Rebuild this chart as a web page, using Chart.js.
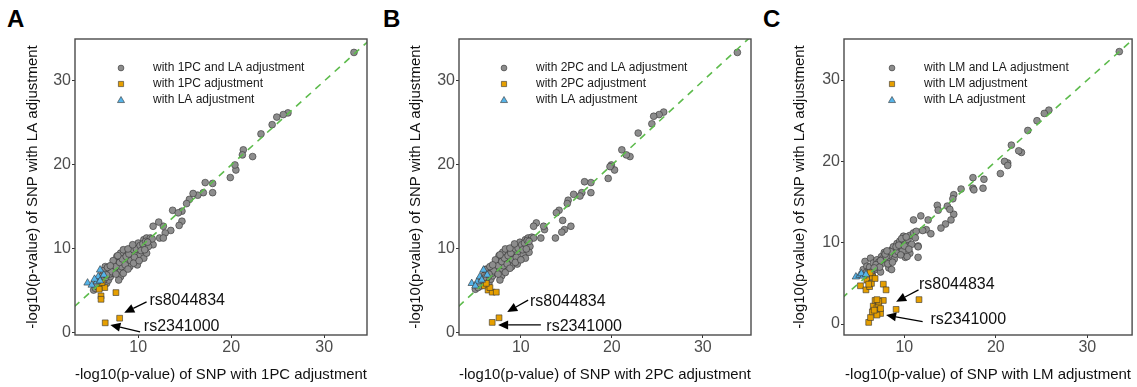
<!DOCTYPE html>
<html>
<head>
<meta charset="UTF-8">
<title>SNP adjustment comparison</title>
<script src="https://cdn.jsdelivr.net/npm/chart.js"></script>
<style>
  body { margin: 0; width: 1137px; height: 387px; background: #fff; position: relative; overflow: hidden; }
  canvas { position: absolute; top: 0; }
  .letter { position: absolute; top: 7px; font: bold 24px Arial, "Liberation Sans", sans-serif; line-height: 24px; color: #000; }
</style>
</head>
<body>

<div class="letter" style="left:7px">A</div>
<div class="letter" style="left:383px">B</div>
<div class="letter" style="left:763px">C</div>

<canvas id="chartA" width="372" height="387" style="left:0px"></canvas>
<canvas id="chartB" width="376" height="387" style="left:380px"></canvas>
<canvas id="chartC" width="380" height="387" style="left:757px"></canvas>

<script>
// tick values
const xTicks = [10, 20, 30];
const yTicks = [0, 10, 20, 30];

const yTitle = '-log10(p-value) of SNP with LA adjustment';

// ---- panel A : 1PC ----
const xTitleA = '-log10(p-value) of SNP with 1PC adjustment';
const legendA = ['with 1PC and LA adjustment', 'with 1PC adjustment', 'with LA adjustment'];
const greyA = [
  [33.2,33.4],[26.1,26.2],[25.6,26.0],[24.9,25.7],[24.4,24.8],[23.2,23.7],[22.3,21.0],[21.3,21.8],[21.2,21.2],
  [20.5,19.4],[20.4,20.0],[19.9,18.5],[18.0,17.8],[17.2,17.9],[18.0,16.7],[17.0,16.7],[16.4,16.4],[15.9,16.6],
  [15.5,15.9],[15.2,15.4],[14.7,14.5],[13.7,14.6],[14.3,14.3],[14.7,13.3],[14.4,12.8],[13.5,12.2],[12.9,11.9],
  [12.7,12.7],[12.2,13.2],[11.6,12.7],[12.3,11.3],[11.6,10.5],[12.7,11.3],
  [5.2,5.1],[5.4,5.3],[5.6,5.5],[5.9,5.7],[6.45,7.9],[6.6,5.9],[6.8,6.3],[7.0,6.7],[7.3,7.1],[7.2,7.7],
  [7.7,9.1],[7.8,8.3],[8.1,7.5],[8.2,7.9],[8.5,9.5],[8.8,8.7],[9.1,7.9],[9.3,9.1],[9.7,9.5],[9.9,8.1],
  [9.9,10.3],[10.0,10.7],[10.4,10.1],[10.6,11.1],[10.9,11.3],[11.1,10.3],[11.3,11.3],[10.2,9.3],[10.6,8.9],
  [10.9,9.5],[8.1,9.5],[8.4,9.9],[9.0,9.8],[9.3,10.1],[7.5,8.3],[6.8,7.3],[6.3,6.3],[8.1,6.7],[7.9,6.3],
  [8.4,7.1],[6.1,6.8],[6.5,6.6],[6.9,7.0],[7.4,7.6],[7.6,7.9],[8.0,8.4],[8.3,8.8],[8.7,9.1],[9.0,9.4],
  [9.5,9.9],[9.8,10.0],[10.2,10.4],[10.5,10.6],[10.8,10.9],[11.5,11.2],[7.1,7.3],[7.6,7.0],[8.6,8.1],
  [9.2,8.6],[9.6,9.0],[10.3,9.8],[8.9,10.0],[6.2,7.4],[6.7,7.8],[7.3,8.6],[5.8,6.0],[6.0,6.4],[7.0,8.0],
  [8.9,7.6],[9.5,8.3],[10.1,8.6],[9.4,10.5],[7.8,9.2],[6.6,6.9],[5.5,5.8],[10.7,9.9],[11.0,10.8]
];
const orangeA = [[6.0,5.5],[6.0,4.4],[6.0,4.0],[7.6,4.8],[6.4,5.4],[6.1,6.0],[5.8,5.2],[8.0,1.75],[6.45,1.2]];
const blueA = [[4.55,5.95],[5.0,5.7],[5.55,6.1],[5.9,7.5],[5.7,6.7],[6.3,6.9],[5.3,6.4],[5.9,6.2]];
const notesA = [['rs8044834', 11.2, 3.8], ['rs2341000', 10.6, 0.7]];
const arrowsA = [[10.9, 3.7, 8.5, 2.4], [10.2, 0.12, 7.0, 0.95]];

// ---- panel B : 2PC ----
const xTitleB = '-log10(p-value) of SNP with 2PC adjustment';
const legendB = ['with 2PC and LA adjustment', 'with 2PC adjustment', 'with LA adjustment'];
const greyB = [
  [33.8,33.4],[25.7,26.3],[25.2,26.0],[24.6,25.8],[24.4,24.9],[22.9,23.8],[22.0,21.0],[21.6,21.2],[21.1,21.8],
  [20.3,19.4],[19.95,20.0],[19.8,19.8],[19.6,18.4],[17.7,17.9],[17.0,18.0],[17.7,16.7],[16.7,16.7],[16.5,16.3],
  [15.8,16.5],[15.2,15.8],[15.1,15.4],[14.2,14.6],[13.9,14.3],[14.6,13.4],[15.5,12.7],[14.8,12.3],[14.5,12.0],
  [13.8,11.3],[12.6,12.3],[12.5,12.7],[11.7,13.1],[11.4,12.7],[12.2,11.3],
  [5.0,5.2],[5.3,5.4],[5.6,5.6],[5.9,5.8],[6.2,7.6],[6.5,6.0],[6.7,6.4],[6.9,6.8],[7.2,7.2],[7.1,7.8],
  [7.6,9.2],[7.7,8.4],[8.0,7.6],[8.1,8.0],[8.4,9.6],[8.7,8.8],[9.0,7.9],[9.3,9.2],[9.6,9.6],[9.6,8.2],
  [9.8,10.4],[9.9,10.8],[10.3,10.2],[10.5,11.1],[10.8,11.3],[11.0,10.3],[11.2,11.4],[10.3,9.3],[10.5,8.9],
  [10.9,9.6],[8.0,9.6],[8.3,10.0],[8.9,9.9],[9.2,10.2],[7.4,8.4],[6.7,7.4],[6.2,6.4],[7.9,6.8],[7.7,6.3],
  [8.3,7.2],[6.0,6.9],[6.4,6.7],[6.8,7.1],[7.3,7.7],[7.5,8.0],[7.9,8.5],[8.2,8.9],[8.6,9.2],[8.9,9.5],
  [9.4,10.0],[9.7,10.1],[10.1,10.5],[10.4,10.7],[10.7,11.0],[11.4,11.3],[7.0,7.4],[7.5,7.0],[8.5,8.2],
  [9.1,8.7],[9.5,9.0],[10.2,9.9],[8.8,10.1],[6.1,7.5],[6.6,7.9],[7.2,8.7],[5.7,6.1],[5.9,6.5],[6.9,8.1],
  [8.8,7.7],[9.4,8.4],[10.0,8.7],[9.3,10.6],[7.7,9.3],[6.5,7.0],[5.4,5.9],[10.6,10.0],[10.9,10.9]
];
const orangeB = [[6.0,5.6],[6.4,5.1],[6.85,4.85],[7.3,4.85],[6.6,5.4],[6.2,5.9],[7.6,1.8],[6.85,1.25]];
const blueB = [[4.6,5.9],[5.2,6.1],[5.5,6.7],[5.9,7.5],[6.3,6.9],[5.0,5.6],[5.7,6.3]];
const notesB = [['rs8044834', 11.0, 3.7], ['rs2341000', 12.8, 0.7]];
const arrowsB = [[10.8, 3.9, 8.5, 2.5], [12.2, 0.95, 7.5, 0.95]];

// ---- panel C : LM ----
const xTitleC = '-log10(p-value) of SNP with LM adjustment';
const legendC = ['with LM and LA adjustment', 'with LM adjustment', 'with LA adjustment'];
const greyC = [
  [33.5,33.5],[25.8,26.3],[25.3,25.9],[24.5,25.0],[23.5,23.8],[22.8,21.1],[22.5,21.3],[21.7,22.0],[21.3,19.8],
  [20.95,20.0],[21.3,19.5],[20.5,18.5],[18.6,16.7],[18.7,17.8],[17.5,18.0],[17.5,16.7],[17.6,16.5],[16.2,16.6],
  [15.4,15.9],[15.3,15.4],[15.4,13.5],[14.7,14.5],[13.6,14.6],[13.7,14.0],[14.97,14.1],[15.1,12.8],[14.5,12.3],
  [14.0,11.8],[12.6,12.8],[11.8,13.3],[11.0,12.8],[12.4,11.6],[12.9,11.1],[11.5,9.6],[11.5,8.2],[10.1,8.2],[10.6,8.7],
  [5.5,6.7],[5.7,7.7],[5.9,7.1],[6.3,8.1],[6.0,6.5],[6.2,7.0],[6.5,6.0],[6.6,7.5],[6.8,6.7],[7.0,7.9],
  [7.1,7.2],[7.4,6.4],[7.5,8.3],[7.7,7.5],[7.8,8.8],[8.1,7.9],[8.3,6.9],[8.4,8.5],[8.6,6.7],[8.6,9.1],
  [8.8,9.5],[8.9,8.0],[9.0,8.6],[9.2,9.9],[9.3,8.9],[9.5,10.2],[9.6,9.4],[9.8,9.0],[9.9,10.8],[10.1,10.1],
  [10.3,8.3],[10.4,10.4],[10.6,10.9],[10.8,9.8],[11.0,11.2],[11.2,10.6],[11.5,9.5],[7.2,7.6],[7.6,8.0],
  [8.0,8.3],[8.2,7.4],[8.7,7.6],[9.1,9.5],[9.4,9.7],[9.7,10.5],[10.0,9.6],[10.2,10.7],[6.4,6.4],[6.9,7.3],
  [7.3,7.0],[7.9,8.6],[8.5,8.9],[9.6,8.5],[10.5,9.2],[8.1,9.0],[7.4,7.8],[6.7,6.9],[5.8,6.3],[11.3,11.4],[12.0,11.5]
];
const orangeC = [
  [5.2,4.7],[5.9,5.4],[5.8,4.2],[6.2,4.6],[6.4,5.0],[6.5,5.8],[6.25,6.3],[6.8,5.6],[7.7,4.9],[8.0,4.2],
  [6.1,0.2],[6.3,0.8],[6.5,1.5],[6.6,2.2],[6.8,2.9],[7.0,2.0],[7.2,2.4],[7.4,1.3],[7.4,1.9],[7.0,1.1],
  [7.7,2.9],[7.2,2.8],[9.1,1.8],[11.6,3.0],[6.7,1.7],[6.1,4.9],[7.0,3.0]
];
const blueC = [[4.7,5.8],[5.1,6.0],[5.5,5.9],[5.3,6.2],[5.8,6.1]];
const notesC = [['rs8044834', 11.6, 4.8], ['rs2341000', 12.85, 0.5]];
const arrowsC = [[11.55, 4.2, 9.1, 2.75], [12.0, 0.3, 8.0, 1.1]];

const FONT = 'Arial, "Liberation Sans", sans-serif';
const GREY = '#8d8d8d', ORANGE = '#e69f00', BLUE = '#56b4e9', EDGE = '#333333';

function drawMarker(ctx, style, x, y, r) {
  ctx.beginPath();
  if (style === 'circle') {
    ctx.arc(x, y, r, 0, Math.PI * 2);
  } else if (style === 'rect') {
    ctx.rect(x - r, y - r, 2 * r, 2 * r);
  } else {
    ctx.moveTo(x, y - r * 1.1);
    ctx.lineTo(x + r * 1.1, y + r * 0.8);
    ctx.lineTo(x - r * 1.1, y + r * 0.8);
    ctx.closePath();
  }
  ctx.fill();
  ctx.stroke();
}

// plot box, legend, labels and arrows
const extras = {
  id: 'extras',
  afterDatasetsDraw(chart, args, opts) {
    const {ctx, chartArea: a, scales: {x, y}} = chart;
    ctx.save();
    ctx.strokeStyle = '#4a4a4a';
    ctx.lineWidth = 1.4;
    ctx.strokeRect(a.left, a.top, a.right - a.left, a.bottom - a.top);

    // legend
    const styles = [['circle', GREY, 2.9], ['rect', ORANGE, 2.6], ['tri', BLUE, 3.2]];
    ctx.font = '12px ' + FONT;
    ctx.textBaseline = 'middle';
    ctx.textAlign = 'left';
    opts.legend.forEach((txt, i) => {
      const ly = a.top + 29 + i * 16;
      ctx.fillStyle = styles[i][1];
      ctx.strokeStyle = EDGE;
      ctx.lineWidth = 0.6;
      drawMarker(ctx, styles[i][0], a.left + opts.legendDx, ly, styles[i][2]);
      ctx.fillStyle = '#1a1a1a';
      ctx.fillText(txt, a.left + opts.legendDx + 32, ly);
    });

    // arrows
    ctx.strokeStyle = '#000';
    ctx.fillStyle = '#000';
    ctx.lineWidth = 1.3;
    opts.arrows.forEach(([x0, y0, x1, y1]) => {
      const px0 = x.getPixelForValue(x0), py0 = y.getPixelForValue(y0);
      const px1 = x.getPixelForValue(x1), py1 = y.getPixelForValue(y1);
      const ang = Math.atan2(py1 - py0, px1 - px0);
      const len = 10, half = 4.5;
      const bx = px1 - len * Math.cos(ang), by = py1 - len * Math.sin(ang);
      ctx.beginPath();
      ctx.moveTo(px0, py0);
      ctx.lineTo(bx, by);
      ctx.stroke();
      ctx.beginPath();
      ctx.moveTo(px1, py1);
      ctx.lineTo(bx + half * Math.sin(ang), by - half * Math.cos(ang));
      ctx.lineTo(bx - half * Math.sin(ang), by + half * Math.cos(ang));
      ctx.closePath();
      ctx.fill();
    });

    // SNP labels
    ctx.font = '16px ' + FONT;
    ctx.fillStyle = '#111';
    opts.notes.forEach(([txt, nx, ny]) => {
      ctx.fillText(txt, x.getPixelForValue(nx), y.getPixelForValue(ny));
    });
    ctx.restore();
  }
};

function makeChart(p) {
  const pts = arr => arr.map(([x, y]) => ({x, y}));
  const canvas = document.getElementById(p.id);
  new Chart(canvas, {
    type: 'scatter',
    data: {
      datasets: [
        { type: 'line', data: [{x: 0, y: 0}, {x: 40, y: 40}], borderColor: '#5dbb4c', borderWidth: 1.6,
          borderDash: [7, 6], pointRadius: 0, order: 0 },
        { data: pts(p.grey), pointStyle: 'circle', pointRadius: 3.4, backgroundColor: GREY,
          borderColor: EDGE, borderWidth: 0.6, order: 3 },
        { data: pts(p.orange), pointStyle: 'rect', pointRadius: 4.1, backgroundColor: ORANGE,
          borderColor: EDGE, borderWidth: 0.6, order: 2 },
        { data: pts(p.blue), pointStyle: 'triangle', pointRadius: 4.3, backgroundColor: BLUE,
          borderColor: EDGE, borderWidth: 0.6, order: 1 }
      ]
    },
    options: {
      responsive: false,
      animation: false,
      events: [],
      layout: { padding: { left: 0, right: p.padRight, top: 39, bottom: 0 } },
      plugins: {
        legend: { display: false },
        tooltip: { enabled: false },
        extras: { legend: p.legend, legendDx: p.legendDx, notes: p.notes, arrows: p.arrows }
      },
      scales: {
        x: {
          type: 'linear', min: p.xMin, max: p.xMax,
          afterBuildTicks: s => { s.ticks = xTicks.map(v => ({value: v})); },
          afterFit: s => { s.height = 52; },
          grid: { drawOnChartArea: false, tickLength: 3, tickColor: '#333', tickWidth: 1 },
          border: { display: false },
          ticks: { color: '#4d4d4d', font: { size: 16, family: FONT }, padding: 0, maxRotation: 0 },
          title: { display: true, text: p.xTitle, color: '#111', font: { size: 15, family: FONT },
                   padding: { top: 0, bottom: 3 } }
        },
        y: {
          type: 'linear', min: p.yMin, max: p.yMax,
          afterBuildTicks: s => { s.ticks = yTicks.map(v => ({value: v})); },
          afterFit: s => { s.width = p.axisWidth; },
          grid: { drawOnChartArea: false, tickLength: 3, tickColor: '#333', tickWidth: 1 },
          border: { display: false },
          ticks: { color: '#4d4d4d', font: { size: 16, family: FONT }, padding: 1 },
          title: { display: true, text: yTitle, color: '#111', font: { size: 15, family: FONT },
                   padding: { top: p.titleOffset, bottom: 0 } }
        }
      }
    },
    plugins: [extras]
  });
}

makeChart({ id: 'chartA', grey: greyA, orange: orangeA, blue: blueA, legend: legendA, notes: notesA, arrows: arrowsA,
  xTitle: xTitleA, xMin: 3.2, xMax: 34.6, yMin: -0.25, yMax: 35.0,
  axisWidth: 75, padRight: 5, titleOffset: 24, legendDx: 46 });
makeChart({ id: 'chartB', grey: greyB, orange: orangeB, blue: blueB, legend: legendB, notes: notesB, arrows: arrowsB,
  xTitle: xTitleB, xMin: 3.2, xMax: 35.3, yMin: -0.25, yMax: 35.0,
  axisWidth: 79, padRight: 5, titleOffset: 27, legendDx: 45 });
makeChart({ id: 'chartC', grey: greyC, orange: orangeC, blue: blueC, legend: legendC, notes: notesC, arrows: arrowsC,
  xTitle: xTitleC, xMin: 3.4, xMax: 34.9, yMin: -1.35, yMax: 35.05,
  axisWidth: 87, padRight: 2, titleOffset: 34, legendDx: 48 });
</script>

</body>
</html>
